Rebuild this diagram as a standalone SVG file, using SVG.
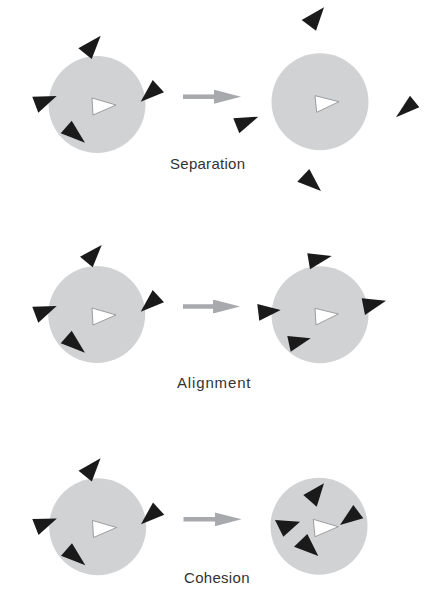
<svg xmlns="http://www.w3.org/2000/svg" width="436" height="609" viewBox="0 0 436 609">
  <style>
    .zone { fill: #d1d2d4; }
    .boid { fill: #1a1a1a; }
    .focus { fill: #ffffff; stroke: #8a8a8a; stroke-width: 0.8; }
    .arrow { stroke: #a7a9ac; stroke-width: 4.5; fill: none; }
    .label { font-family: "Liberation Sans", Arial, sans-serif; font-size: 15px; fill: #333333; }
  </style>
  <defs>
    <marker id="head" markerUnits="userSpaceOnUse" markerWidth="27" markerHeight="14" refX="1" refY="7" orient="auto">
      <path d="M0,0 L27,7 L0,14 z" fill="#a7a9ac"/>
    </marker>
  </defs>
  <rect width="436" height="609" fill="#ffffff"/>

  <!-- Separation -->
  <g id="sep-before">
    <circle class="zone" cx="97" cy="104.5" r="48.5"/>
    <polygon class="focus" points="92,98 116,105 93,115"/>
    <polygon class="boid" points="100.7,35.7 78.3,48.3 91.7,59"/>
    <polygon class="boid" points="32.3,96.7 56.7,96 38.3,112.7"/>
    <polygon class="boid" points="152.7,80 164,92.3 140.7,101.7"/>
    <polygon class="boid" points="71.7,120.7 85,142.7 60.7,133.3"/>
  </g>
  <g id="sep-after">
    <circle class="zone" cx="320" cy="101.7" r="48.5"/>
    <polygon class="focus" points="315,95.7 339,101.7 316.7,112.3"/>
    <polygon class="boid" points="324,7.3 301.7,20 316,30.7"/>
    <polygon class="boid" points="410,95.7 419.3,107.3 396,117.3"/>
    <polygon class="boid" points="233.3,118.3 258.3,116.7 239.3,133.3"/>
    <polygon class="boid" points="309.3,169 321,191 297.3,181.7"/>
  </g>
  <text id="sep-label" class="label" x="170" y="169" textLength="75">Separation</text>

  <!-- Alignment -->
  <g id="ali-before">
    <circle class="zone" cx="96.7" cy="314.5" r="48.5"/>
    <polygon class="focus" points="92,308 116,315 93,325"/>
    <polygon class="boid" points="101.7,245 80,256.7 92.7,267.3"/>
    <polygon class="boid" points="32.3,306.7 56.7,306 38.3,322.7"/>
    <polygon class="boid" points="152.7,290 164,302.3 140.7,311.7"/>
    <polygon class="boid" points="71.7,330.7 85,352.7 60.7,343.3"/>
  </g>
  <g id="ali-after">
    <circle class="zone" cx="320" cy="314.7" r="48.5"/>
    <polygon class="focus" points="315,308.3 338.3,314 316,325"/>
    <polygon class="boid" points="307.3,253.3 331.7,256 310,269.3"/>
    <polygon class="boid" points="257.3,304 280.7,310 259.3,320.7"/>
    <polygon class="boid" points="361.7,298.3 386,300.7 365,315"/>
    <polygon class="boid" points="287.3,336 310.7,338.3 290.7,351.7"/>
  </g>
  <text id="ali-label" class="label" x="177" y="388" textLength="73.5">Alignment</text>

  <!-- Cohesion -->
  <g id="coh-before">
    <circle class="zone" cx="97.7" cy="526.7" r="48.5"/>
    <polygon class="focus" points="92.5,520.5 116.5,527.5 93.5,537.5"/>
    <polygon class="boid" points="100.5,458.3 78.5,470.8 91.8,481.5"/>
    <polygon class="boid" points="32.3,519 56.9,518.5 38.5,535"/>
    <polygon class="boid" points="153,502.5 164.3,514.8 141,524.2"/>
    <polygon class="boid" points="72,543.2 85.3,565.2 61,555.8"/>
  </g>
  <g id="coh-after">
    <circle class="zone" cx="319" cy="526.2" r="48.5"/>
    <polygon class="focus" points="313.3,519.3 338.3,526.7 315,536.7"/>
    <polygon class="boid" points="324,483.3 303.3,495 316.7,506.7"/>
    <polygon class="boid" points="353.3,505 363.3,518.3 340,525"/>
    <polygon class="boid" points="275,520 300,521.7 283.3,536.7"/>
    <polygon class="boid" points="307.3,534 318.3,556 294,546.7"/>
  </g>
  <text id="coh-label" class="label" x="184" y="582.5" textLength="65.5">Cohesion</text>

  <g id="connectors">
    <line class="arrow" x1="183" y1="96.7" x2="215" y2="96.7" marker-end="url(#head)"/>
    <line class="arrow" x1="183" y1="306.5" x2="214" y2="306.5" marker-end="url(#head)"/>
    <line class="arrow" x1="183.5" y1="519.3" x2="215.5" y2="519.3" marker-end="url(#head)"/>
  </g>
</svg>
